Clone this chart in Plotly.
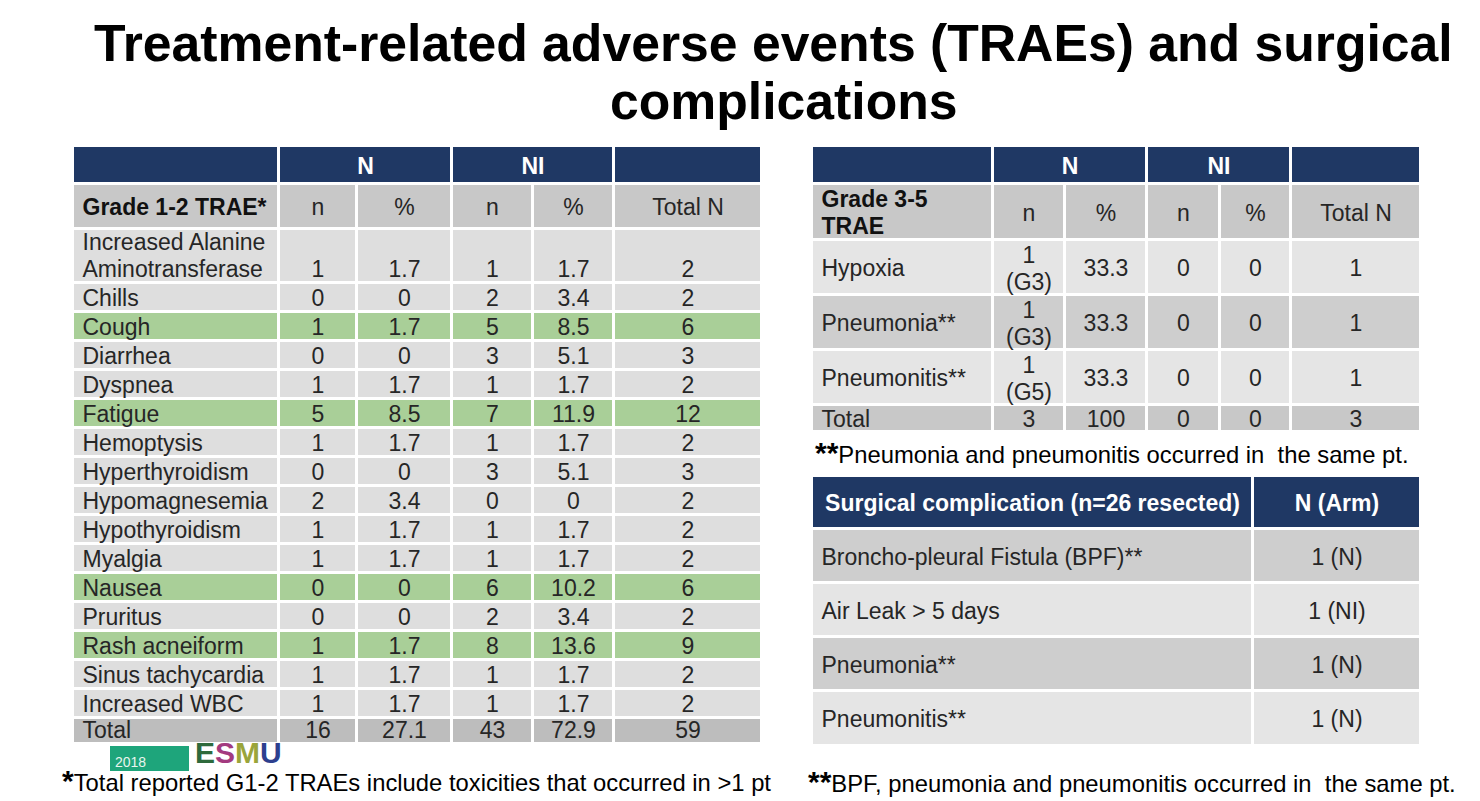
import plotly.graph_objects as go

# ---------------- data ----------------
g12_events = ["Increased Alanine\nAminotransferase", "Chills", "Cough", "Diarrhea", "Dyspnea",
              "Fatigue", "Hemoptysis", "Hyperthyroidism", "Hypomagnesemia", "Hypothyroidism",
              "Myalgia", "Nausea", "Pruritus", "Rash acneiform", "Sinus tachycardia",
              "Increased WBC", "Total"]
g12_N_n = [1, 0, 1, 0, 1, 5, 1, 0, 2, 1, 1, 0, 0, 1, 1, 1, 16]
g12_N_pct = [1.7, 0, 1.7, 0, 1.7, 8.5, 1.7, 0, 3.4, 1.7, 1.7, 0, 0, 1.7, 1.7, 1.7, 27.1]
g12_NI_n = [1, 2, 5, 3, 1, 7, 1, 3, 0, 1, 1, 6, 2, 8, 1, 1, 43]
g12_NI_pct = [1.7, 3.4, 8.5, 5.1, 1.7, 11.9, 1.7, 5.1, 0, 1.7, 1.7, 10.2, 3.4, 13.6, 1.7, 1.7, 72.9]
g12_total = [2, 2, 6, 3, 2, 12, 2, 3, 2, 2, 2, 6, 2, 9, 2, 2, 59]
g12_highlight = ["Cough", "Fatigue", "Nausea", "Rash acneiform"]

g35_events = ["Hypoxia", "Pneumonia**", "Pneumonitis**", "Total"]
g35_N_n = [1, 1, 1, 3]
g35_N_grade = ["G3", "G3", "G5", ""]
g35_N_pct = [33.3, 33.3, 33.3, 100]
g35_NI_n = [0, 0, 0, 0]
g35_NI_pct = [0, 0, 0, 0]
g35_total = [1, 1, 1, 3]

surg_events = ["Broncho-pleural Fistula (BPF)**", "Air Leak > 5 days", "Pneumonia**", "Pneumonitis**"]
surg_count = [1, 1, 1, 1]
surg_arm = ["N", "NI", "N", "N"]

arm_labels = ["N", "NI"]
sub_labels = ["n", "%", "n", "%", "Total N"]

# ---------------- style / layout ----------------
W, H = 1480, 801
OFF = 8  # page body margin of the html page
FONT = "Liberation Sans, Arial, sans-serif"
PALETTE = ["#1f3864",   # 0 navy
           "#c8c8c8",   # 1 header gray
           "#dedede",   # 2 light body (left)
           "#a9cf98",   # 3 green highlight
           "#bdbdbd",   # 4 total gray (left)
           "#e5e5e5",   # 5 light body (right)
           "#cecece"]   # 6 darker body (right)
TXT = "#262626"
FS = 23
LS = 27       # line spacing for two-line cells
YSHIFT = 3    # optical centring of text in a cell
PADX = 9.5    # left padding of left-aligned cells

L_COLS = [73, 279, 357, 452, 533, 614, 762]
L_SPAN = [73, 279, 452, 614, 762]
L_ROWS_TOP = 184
L_ROW_H = [45, 54] + [29] * 15 + [26]

R_COLS = [812, 993, 1065, 1147, 1220, 1291, 1421]
R_SPAN = [812, 993, 1147, 1291, 1421]
R_ROWS_TOP = 184
R_ROW_H = [56, 55, 55, 55, 27]

S_COLS = [812, 1253, 1421]
S_ROWS_TOP = 476
S_ROW_H = [53, 54, 54, 54, 55]

DARK_TOP, DARK_BOT = 146, 184


def edges(top, heights):
    e = [top]
    for h in heights:
        e.append(e[-1] + h)
    return e


def fmt(v):
    return f"{v:g}"


fig = go.Figure()
cscale = []
n = len(PALETTE)
for i, c in enumerate(PALETTE):
    cscale.append([i / n, c])
    cscale.append([(i + 1) / n, c])


def fills(xe, ye, codes):
    fig.add_trace(go.Heatmap(x=xe, y=ye, z=codes, colorscale=cscale, zmin=0, zmax=n,
                             showscale=False, xgap=3, ygap=3, hoverinfo="skip"))


def cells_text(xe, ye, rows, aligns, valign, colors, bold_rows=()):
    # rows: list of rows, each a list of strings (\n = line break)
    ncol = len(xe) - 1
    for c in range(ncol):
        xs, ys, ts, cs = [], [], [], []
        for r, row in enumerate(rows):
            s = row[c]
            if s == "":
                continue
            lines = s.split("\n")
            top, bot = ye[r], ye[r + 1]
            k = len(lines)
            for j, line in enumerate(lines):
                if valign[r] == "bottom":
                    y = bot - 14.5 - (k - 1 - j) * LS
                else:
                    y = (top + bot) / 2 + (j - (k - 1) / 2) * LS
                if aligns[c] == "left":
                    x = xe[c] + PADX
                else:
                    x = (xe[c] + xe[c + 1]) / 2
                xs.append(x)
                ys.append(y + YSHIFT)
                ts.append(f"<b>{line}</b>" if r in bold_rows else line)
                cs.append(colors[r])
        fig.add_trace(go.Scatter(
            x=xs, y=ys, text=ts, mode="text",
            textposition="middle right" if aligns[c] == "left" else "middle center",
            textfont=dict(family=FONT, size=FS, color=cs),
            hoverinfo="skip", showlegend=False, cliponaxis=False))


# ---- dark spanning header rows ----
fills(L_SPAN, [DARK_TOP, DARK_BOT], [[0, 0, 0, 0]])
cells_text(L_SPAN, [DARK_TOP, DARK_BOT], [[""] + arm_labels + [""]],
           ["left", "center", "center", "center"], ["center"], ["white"], bold_rows=(0,))
fills(R_SPAN, [DARK_TOP, DARK_BOT], [[0, 0, 0, 0]])
cells_text(R_SPAN, [DARK_TOP, DARK_BOT], [[""] + arm_labels + [""]],
           ["left", "center", "center", "center"], ["center"], ["white"], bold_rows=(0,))

# ---- left table (grade 1-2) ----
l_ye = edges(L_ROWS_TOP, L_ROW_H)
l_rows = [["Grade 1-2 TRAE*"] + sub_labels]
l_codes = [[1] * 6]
for i, ev in enumerate(g12_events):
    l_rows.append([ev, str(g12_N_n[i]), fmt(g12_N_pct[i]), str(g12_NI_n[i]),
                   fmt(g12_NI_pct[i]), str(g12_total[i])])
    code = 3 if ev in g12_highlight else (4 if ev == "Total" else 2)
    l_codes.append([code] * 6)
fills(L_COLS, l_ye, l_codes)
l_al = ["left"] + ["center"] * 5
cells_text(L_COLS, l_ye, [[l_rows[0][0]] + [""] * 5] + [[""] * 6 for _ in l_rows[1:]],
           l_al, ["center"] * len(l_rows), ["#111111"] * len(l_rows), bold_rows=(0,))
cells_text(L_COLS, l_ye, [[""] + l_rows[0][1:]] + l_rows[1:],
           l_al, ["center"] + ["bottom"] * (len(l_rows) - 1), [TXT] * len(l_rows))

# ---- right table (grade 3-5) ----
r_ye = edges(R_ROWS_TOP, R_ROW_H)
r_rows = [["Grade 3-5\nTRAE"] + sub_labels]
r_codes = [[1] * 6]
for i, ev in enumerate(g35_events):
    nval = str(g35_N_n[i]) + (f"\n({g35_N_grade[i]})" if g35_N_grade[i] else "")
    r_rows.append([ev, nval, fmt(g35_N_pct[i]), str(g35_NI_n[i]), fmt(g35_NI_pct[i]),
                   str(g35_total[i])])
    r_codes.append([1] * 6 if ev == "Total" else [5 if i % 2 == 0 else 6] * 6)
fills(R_COLS, r_ye, r_codes)
r_al = ["left"] + ["center"] * 5
cells_text(R_COLS, r_ye, [[r_rows[0][0]] + [""] * 5] + [[""] * 6 for _ in r_rows[1:]],
           r_al, ["center"] * len(r_rows), ["#111111"] * len(r_rows), bold_rows=(0,))
cells_text(R_COLS, r_ye, [[""] + r_rows[0][1:]] + r_rows[1:],
           r_al, ["center"] * len(r_rows), [TXT] * len(r_rows))

# ---- surgical complications ----
s_ye = edges(S_ROWS_TOP, S_ROW_H)
s_rows = [["Surgical complication (n=26 resected)", "N (Arm)"]]
s_codes = [[0, 0]]
for i, ev in enumerate(surg_events):
    s_rows.append([ev, f"{surg_count[i]} ({surg_arm[i]})"])
    s_codes.append([6 if i % 2 == 0 else 5] * 2)
fills(S_COLS, s_ye, s_codes)
cells_text(S_COLS, s_ye, [s_rows[0]] + [["", ""] for _ in s_rows[1:]],
           ["center", "center"], ["center"] * len(s_rows), ["white"] * len(s_rows), bold_rows=(0,))
cells_text(S_COLS, s_ye, [["", ""]] + s_rows[1:],
           ["left", "center"], ["center"] * len(s_rows), [TXT] * len(s_rows))

# ---------------- annotations ----------------
ann = []


def text(px, py, s, size, xanchor="left", yanchor="middle", color="black"):
    ann.append(dict(x=px, y=py, xref="x", yref="y", text=s, showarrow=False,
                    xanchor=xanchor, yanchor=yanchor,
                    font=dict(family=FONT, size=size, color=color)))


STAR = "<span style='font-size:30px'><b>{}</b></span>"
text(773.5, 43, "<b>Treatment-related adverse events (TRAEs) and surgical</b>", 51.7, xanchor="center")
text(783.5, 101, "<b>complications</b>", 51.7, xanchor="center")
text(813, 452, STAR.format("**") + "Pneumonia and pneumonitis occurred in  the same pt.", 23.8)
text(806, 781, STAR.format("**") + "BPF, pneumonia and pneumonitis occurred in  the same pt.", 23.8)
text(60, 780, STAR.format("*") + "Total reported G1-2 TRAEs include toxicities that occurred in >1 pt", 23.8)

# congress logo, partly hidden in the original slide
fig.add_shape(type="rect", xref="x", yref="y", x0=110, x1=189, y0=746, y1=771,
              fillcolor="#1ea57b", line=dict(width=0), layer="below")
text(113, 762, "2018", 14, color="#e8f5ee")
text(193, 771, "<b><span style='color:#2e6a3c'>E</span><span style='color:#a33a7f'>S</span>"
     "<span style='color:#9aa53a'>M</span><span style='color:#2d3f8e'>U</span></b>", 30,
     yanchor="bottom")

fig.update_layout(
    width=W, height=H, margin=dict(l=0, r=0, t=0, b=0),
    paper_bgcolor="white", plot_bgcolor="white", annotations=ann, showlegend=False,
    xaxis=dict(range=[OFF, W + OFF], visible=False, fixedrange=True),
    yaxis=dict(range=[H + OFF, OFF], visible=False, fixedrange=True),
)

fig.write_html("out.html")
